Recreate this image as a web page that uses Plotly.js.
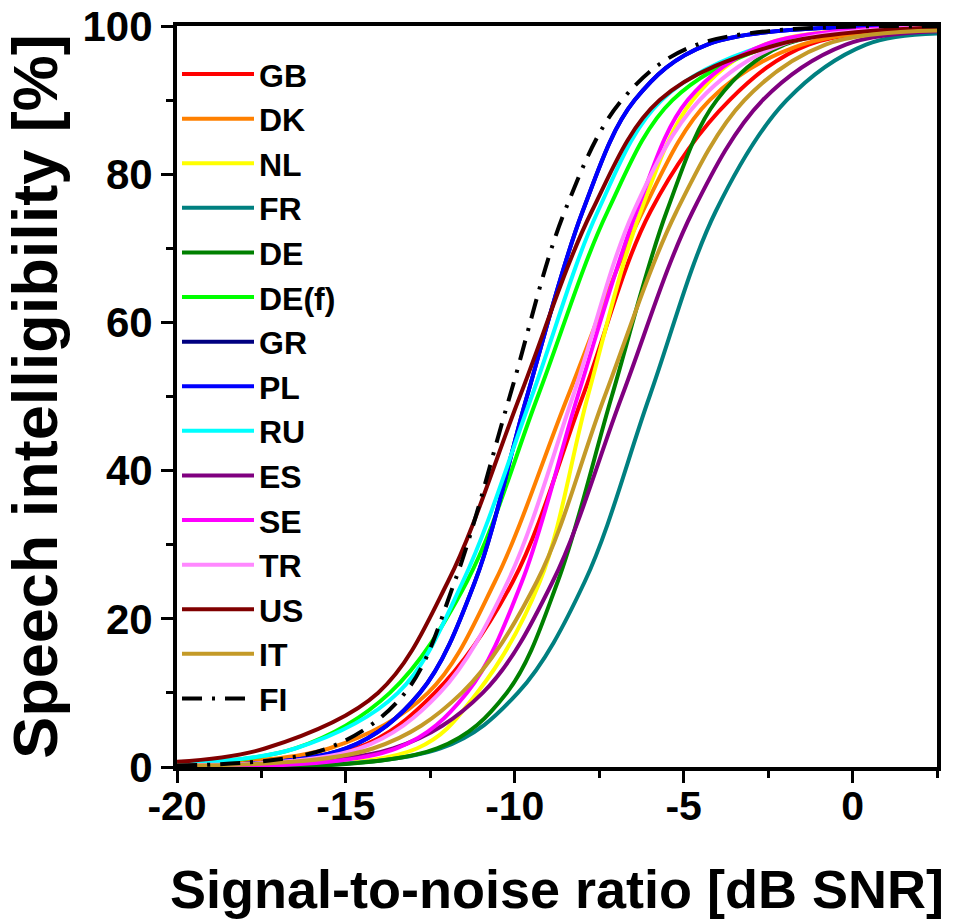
<!DOCTYPE html>
<html>
<head>
<meta charset="utf-8">
<script src="https://cdn.plot.ly/plotly-3.0.1.min.js"></script>
<style>html,body{margin:0;padding:0;background:#fff;}#chart{width:953px;height:919px;}</style>
</head>
<body>
<div id="chart"></div>
<script>
// Intelligibility levels (%) at which the SNR of each curve was read
var LEVELS = [2.5, 10, 25, 50, 75, 90, 97.5];
// Edges of the SNR axis and the intelligibility read there
var SNR_START = -20, SNR_END = 2.5;

var X_TICKS = [-20, -15, -10, -5, 0];
var X_TICK_TEXT = ["-20", "-15", "-10", "-5", "0"];
var Y_TICKS = [0, 20, 40, 60, 80, 100];
var Y_TICK_TEXT = ["0", "20", "40", "60", "80", "100"];

var NAMES = ["GB","DK","NL","FR","DE","DE(f)","GR","PL","RU","ES","SE","TR","US","IT","FI"];
var COLORS = ["#FF0000","#FF8000","#FFFF00","#008080","#008000","#00FF00","#000080","#0000FF","#00FFFF","#800080","#FF00FF","#FF88FF","#800000","#C49A28","#000000"];

// SNR (dB) at each level of LEVELS
var GB   = [-14.7, -12.37, -10.06, -7.99, -5.98, -3.64, -1.3];
var DK   = [-15.5, -12.57, -10.59, -8.43, -6.21, -4.23, -1.5];
var NL   = [-12.9, -11.12,  -9.26, -7.84, -6.27, -4.73, -2.6];
var FR   = [-12.2,  -9.91,  -7.93, -6.01, -4.05, -1.95,  0.4];
var DE   = [-12.3, -10.24,  -8.73, -7.13, -5.50, -4.02, -2.0];
var DEf  = [-16.5, -13.70, -11.42, -9.32, -7.25, -5.33, -2.3];
var GR   = [-15.0, -12.81, -11.18, -9.64, -7.99, -6.45, -4.3];
var PL   = [-15.0, -12.81, -11.18, -9.64, -7.99, -6.45, -4.3];
var RU   = [-16.5, -13.46, -11.54, -9.50, -7.54, -5.65, -2.5];
var ES   = [-13.6, -10.95,  -8.88, -6.83, -4.73, -2.66, -0.2];
var SE   = [-13.5, -11.42,  -9.79, -8.14, -6.39, -4.88, -2.6];
var TR   = [-14.6, -12.22, -10.21, -8.28, -6.48, -4.53, -2.1];
var US   = [-17.4, -14.05, -11.98, -9.85, -7.72, -5.71, -2.2];
var IT   = [-14.2, -11.57,  -9.35, -7.34, -5.21, -3.20, -0.8];
var FI   = [-15.56,-13.25, -11.78,-10.15, -8.52, -6.83, -4.6];

// Intelligibility (%) at -20 dB and at 2.5 dB
var START_PCT = [0.2, 0.4, 0.05, 0.05, 0.02, 0.5, 0.2, 0.2, 0.5, 0.15, 0.1, 0.25, 0.7, 0.2, 0.2];
var END_PCT   = [99.6, 99.6, 99.8, 99.0, 99.7, 99.8, 99.9, 99.9, 99.8, 99.3, 99.8, 99.8, 99.8, 99.4, 99.95];

var SERIES = [GB, DK, NL, FR, DE, DEf, GR, PL, RU, ES, SE, TR, US, IT, FI];

var traces = SERIES.map(function (snr, i) {
  return {
    type: 'scatter', mode: 'lines', name: NAMES[i], legendgroup: NAMES[i],
    x: [SNR_START].concat(snr, [SNR_END]),
    y: [START_PCT[i]].concat(LEVELS, [END_PCT[i]]),
    line: {color: COLORS[i], width: 4, shape: 'spline', smoothing: 1,
           dash: NAMES[i] === 'FI' ? '20px,10px,3px,10px' : 'solid'},
    hoverinfo: 'x+y+name'
  };
});

var FONT = 'Liberation Sans, Arial, sans-serif';
var layout = {
  width: 953, height: 919,
  margin: {l: 177, r: 16, t: 26, b: 152},
  paper_bgcolor: '#fff', plot_bgcolor: '#fff',
  font: {family: FONT, color: '#000', weight: 'bold'},
  showlegend: true,
  legend: {
    x: 0.0, y: 0.972, xanchor: 'left', yanchor: 'top',
    bgcolor: 'rgba(0,0,0,0)', borderwidth: 0,
    font: {family: FONT, size: 32, color: '#000', weight: 'bold'},
    itemwidth: 72, tracegroupgap: 0.9, traceorder: 'normal'
  },
  xaxis: {
    range: [-20, 2.5], tickmode: 'array', tickvals: X_TICKS, ticktext: X_TICK_TEXT,
    showgrid: false, zeroline: false,
    showline: true, linewidth: 4, linecolor: '#000', mirror: true,
    ticks: 'outside', ticklen: 12, tickwidth: 3, tickcolor: '#000',
    ticklabelstandoff: -12,
    minor: {dtick: 2.5, tick0: -20, ticks: 'outside', ticklen: 7, tickwidth: 3, tickcolor: '#000', showgrid: false},
    tickfont: {family: FONT, size: 41, color: '#000', weight: 'bold'},
    title: {text: 'Signal-to-noise ratio [dB SNR]', standoff: 43,
            font: {family: FONT, size: 54, color: '#000', weight: 'bold'}}
  },
  yaxis: {
    range: [0, 100], tickmode: 'array', tickvals: Y_TICKS, ticktext: Y_TICK_TEXT,
    showgrid: false, zeroline: false,
    showline: true, linewidth: 4, linecolor: '#000', mirror: true,
    ticks: 'outside', ticklen: 12, tickwidth: 3, tickcolor: '#000',
    minor: {dtick: 10, tick0: 0, ticks: 'outside', ticklen: 7, tickwidth: 3, tickcolor: '#000', showgrid: false},
    tickfont: {family: FONT, size: 42, color: '#000', weight: 'bold'},
    title: {text: 'Speech intelligibility [%]', standoff: 10,
            font: {family: FONT, size: 63, color: '#000', weight: 'bold'}}
  }
};

Plotly.newPlot('chart', traces, layout, {displayModeBar: false, staticPlot: true});
</script>
</body>
</html>
